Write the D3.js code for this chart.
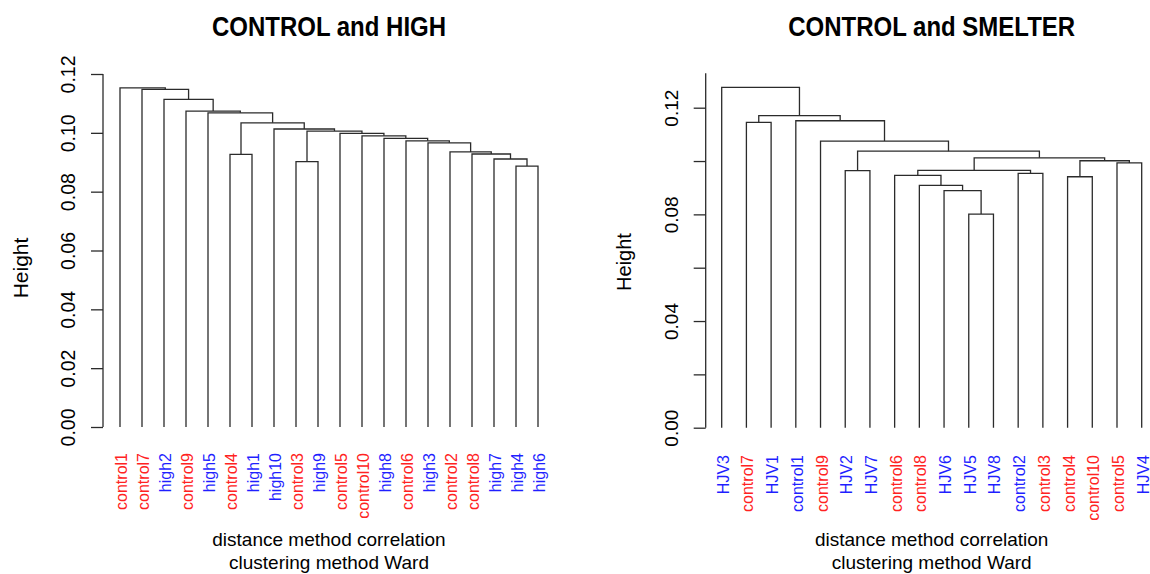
<!DOCTYPE html>
<html lang="en">
  <head>
    <meta charset="utf-8" />
    <title>Ward dendrograms</title>
    <script src="https://cdnjs.cloudflare.com/ajax/libs/d3/7.8.5/d3.min.js"></script>
    <style type="text/css">
      body { margin: 0; background: #fff; }
      svg { font-family: "Liberation Sans", Arial, Helvetica, sans-serif; }
    </style>
  </head>

  <body>
    <div id="chart"></div>
    <script>
      // merges like R's hclust: [left, right, height]; numbers point to an earlier merge (1-based)
      const highMerges = [
        ['high4', 'high6', 0.0887],
        ['high7', 1, 0.0911],
        ['control8', 2, 0.0928],
        ['control2', 3, 0.0935],
        ['high3', 4, 0.0966],
        ['control6', 5, 0.0973],
        ['high8', 6, 0.0981],
        ['control10', 7, 0.0990],
        ['control5', 8, 0.0998],
        ['control3', 'high9', 0.0902],
        [10, 9, 0.1006],
        ['high10', 11, 0.1013],
        ['control4', 'high1', 0.0927],
        [13, 12, 0.1034],
        ['high5', 14, 0.1068],
        ['control9', 15, 0.1074],
        ['high2', 16, 0.1114],
        ['control7', 17, 0.1148],
        ['control1', 18, 0.1153],
      ];
      const highBlue = ['high1', 'high2', 'high3', 'high4', 'high5', 'high6', 'high7', 'high8', 'high9', 'high10'];

      const smelterMerges = [
        ['HJV5', 'HJV8', 0.0801],
        ['HJV6', 1, 0.0889],
        ['control8', 2, 0.0909],
        ['control6', 3, 0.0946],
        ['control2', 'control3', 0.0954],
        [4, 5, 0.0965],
        ['control4', 'control10', 0.0941],
        ['control5', 'HJV4', 0.0993],
        [7, 8, 0.1001],
        [6, 9, 0.1012],
        ['HJV2', 'HJV7', 0.0964],
        [11, 10, 0.1037],
        ['control9', 12, 0.1075],
        ['control1', 13, 0.1151],
        ['control7', 'HJV1', 0.1145],
        [15, 14, 0.1170],
        ['HJV3', 16, 0.1276],
      ];
      const smelterBlue = ['HJV1', 'HJV2', 'HJV3', 'HJV4', 'HJV5', 'HJV6', 'HJV7', 'HJV8', 'control1', 'control2'];

      const leftTicks = [0, 0.02, 0.04, 0.06, 0.08, 0.10, 0.12];
      const leftTickLabels = [0, 0.02, 0.04, 0.06, 0.08, 0.10, 0.12];
      const rightTicks = [0, 0.02, 0.04, 0.06, 0.08, 0.10, 0.12];
      const rightTickLabels = [0, 0.04, 0.08, 0.12];

      const W = 1150, H = 574;
      const svg = d3.select('#chart').append('svg')
        .attr('width', W)
        .attr('height', H);

      function toTree(merges) {
        const build = ref => {
          if (typeof ref === 'string') return { name: ref, h: 0 };
          const m = merges[ref - 1];
          return { h: m[2], children: [build(m[0]), build(m[1])] };
        };
        return d3.hierarchy(build(merges.length));
      }

      function panel(cfg) {
        const root = toTree(cfg.merges);
        const leaves = root.leaves();
        const x = d3.scalePoint()
          .domain(leaves.map(d => d.data.name))
          .range([cfg.x0, cfg.x1]);
        const y = d3.scaleLinear()
          .domain([0, 0.12])
          .range([cfg.yBase, cfg.yTop]);

        root.eachAfter(n => {
          n.px = n.children ? d3.mean(n.children, c => c.px) : x(n.data.name);
          n.py = y(n.data.h);
        });

        const g = svg.append('g');

        g.selectAll('path.link')
          .data(root.descendants().filter(n => n.children))
          .join('path')
          .attr('class', 'link')
          .attr('fill', 'none')
          .attr('stroke', '#2b2b2b')
          .attr('stroke-width', 1.3)
          .attr('d', n => {
            const [a, b] = n.children;
            return `M${a.px},${a.py}V${n.py}H${b.px}V${b.py}`;
          });

        // leaf labels
        g.selectAll('text.leaf')
          .data(leaves)
          .join('text')
          .attr('class', 'leaf')
          .attr('transform', d => `translate(${d.px + 7},${cfg.labelTop}) rotate(-90)`)
          .attr('text-anchor', 'end')
          .attr('font-size', 16)
          .attr('fill', d => cfg.blue.includes(d.data.name) ? '#1f1fff' : '#ff2222')
          .text(d => d.data.name);

        // y axis
        const axis = d3.axisLeft(y)
          .tickValues(cfg.ticks)
          .tickSize(12)
          .tickSizeOuter(0)
          .tickFormat(v => cfg.tickLabels.some(t => Math.abs(t - v) < 1e-9) ? d3.format('.2f')(v) : '');
        const ag = g.append('g')
          .attr('transform', `translate(${cfg.axisX},0)`)
          .call(axis);
        ag.select('.domain').remove();
        ag.append('line')
          .attr('y1', y(0))
          .attr('y2', y(cfg.axisTopVal))
          .attr('stroke', '#2b2b2b')
          .attr('stroke-width', 1.3);
        ag.selectAll('.tick line').attr('stroke', '#2b2b2b').attr('stroke-width', 1.3);
        ag.selectAll('.tick text')
          .attr('transform', 'rotate(-90)')
          .attr('x', 0)
          .attr('y', -cfg.tickGap)
          .attr('dy', 0)
          .attr('text-anchor', 'middle')
          .attr('font-size', cfg.tickFont)
          .attr('font-family', '"Liberation Sans", Arial, sans-serif')
          .attr('fill', '#000');

        g.append('text')
          .attr('transform', `translate(${cfg.heightX},${cfg.heightY}) rotate(-90)`)
          .attr('text-anchor', 'middle')
          .attr('font-size', cfg.heightFont)
          .text('Height');

        const cx = (cfg.x0 + cfg.x1) / 2;
        g.append('text')
          .attr('transform', `translate(${cx},36) scale(1,1.12)`)
          .attr('text-anchor', 'middle')
          .attr('font-size', 24)
          .attr('font-weight', 'bold')
          .text(cfg.title);
        g.append('text')
          .attr('x', cx).attr('y', 546)
          .attr('text-anchor', 'middle')
          .attr('font-size', 19)
          .text('distance method correlation');
        g.append('text')
          .attr('x', cx).attr('y', 569)
          .attr('text-anchor', 'middle')
          .attr('font-size', 19)
          .text('clustering method Ward');
      }

      panel({
        merges: highMerges, blue: highBlue, title: 'CONTROL and HIGH',
        x0: 120, x1: 538, yBase: 427, yTop: 74, axisX: 103, axisTopVal: 0.12,
        ticks: leftTicks, tickLabels: leftTickLabels, tickGap: 28, tickFont: 19.5,
        labelTop: 453, heightX: 28, heightY: 268, heightFont: 21,
      });

      panel({
        merges: smelterMerges, blue: smelterBlue, title: 'CONTROL and SMELTER',
        x0: 721.7, x1: 1141.7, yBase: 427.7, yTop: 107.7, axisX: 705.7, axisTopVal: 0.1329,
        ticks: rightTicks, tickLabels: rightTickLabels, tickGap: 27.7, tickFont: 19,
        labelTop: 455, heightX: 631, heightY: 262, heightFont: 20,
      });
    </script>
  </body>
</html>
